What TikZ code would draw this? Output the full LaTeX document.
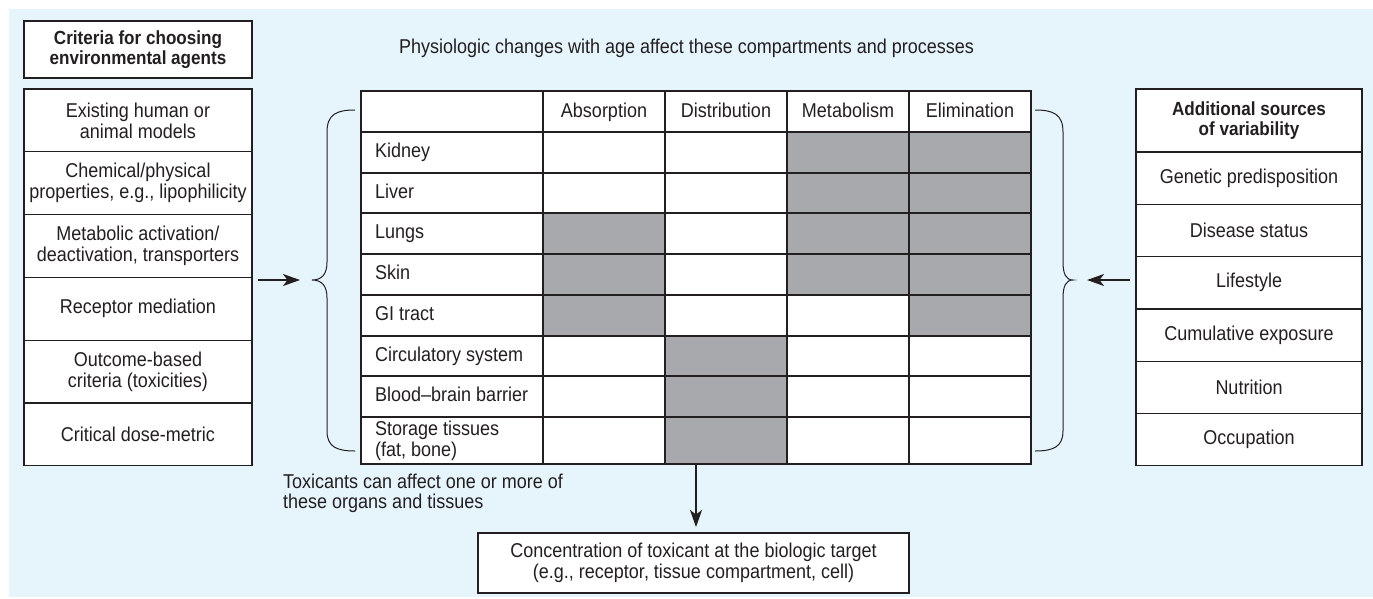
\documentclass[tikz,border=0pt]{standalone}
\usepackage{fontspec}
\setmainfont{Liberation Sans}[FakeStretch=0.9]
\usepackage{xcolor}
\usetikzlibrary{positioning,arrows.meta}
\definecolor{bgblue}{RGB}{230,244,252}
\definecolor{cellgray}{RGB}{167,169,172}
\definecolor{ink}{RGB}{35,31,32}
\tikzset{
  txt/.style={text=ink, font=\fontsize{20}{21}\selectfont},
  headtxt/.style={text=ink, font=\fontsize{19}{19.5}\selectfont\bfseries},
  box/.style={draw=ink, fill=white, line width=1.2pt, inner sep=0pt, outer sep=0pt, align=center, minimum width=228pt, txt},
  lbox/.style={box, minimum height=62.8pt},
  rbox/.style={box, minimum width=226pt, minimum height=52.3pt},
  rowlab/.style={txt, anchor=west, inner sep=0pt, text height=14pt, text depth=4pt},
  arr/.style={draw=ink, line width=2pt, -{Stealth[length=17pt,width=12pt,inset=4.5pt]}},
  brace/.style={draw=ink, line width=1pt},
}
\def\colx{{361,543,665,787,909,1031}}
\def\rowy{{91,132,173,213,254,295,336,376,417,464}}

\begin{document}
\begin{tikzpicture}[x=1pt,y=-1pt]
\useasboundingbox (0,0) rectangle (1373,598);
\fill[bgblue] (9,9) rectangle (1373,597);
%
\node[box, headtxt, minimum height=57pt] (crit) at (138,49.5) {Criteria for choosing\\environmental agents};
\node[lbox] (models) at (138,120.4) {Existing human or\\animal models};
\node[lbox, below=0pt of models] (props) {Chemical/physical\\properties, e.g., lipophilicity};
\node[lbox, below=0pt of props] (metab) {Metabolic activation/\\deactivation, transporters};
\node[lbox, below=0pt of metab] (recep) {Receptor mediation};
\node[lbox, below=0pt of recep] (outcome) {Outcome-based\\criteria (toxicities)};
\node[lbox, below=0pt of outcome] (dose) {Critical dose-metric};
%
\node[box, headtxt, minimum width=226pt, minimum height=63pt] (addl) at (1249,120.5) {Additional sources\\of variability};
\node[rbox, below=0pt of addl] (genetic) {Genetic predisposition};
\node[rbox, below=0pt of genetic] (disease) {Disease status};
\node[rbox, below=0pt of disease] (life) {Lifestyle};
\node[rbox, below=0pt of life] (cumul) {Cumulative exposure};
\node[rbox, below=0pt of cumul] (nutr) {Nutrition};
\node[rbox, below=0pt of nutr] (occup) {Occupation};
%
\node[txt, inner sep=0pt] (cap) at (686.5,48.5) {Physiologic changes with age affect these compartments and processes};
%
\fill[white] (361,91) rectangle (1031,464);
\foreach \c/\r in {3/1,4/1,3/2,4/2,1/3,3/3,4/3,1/4,3/4,4/4,1/5,4/5,2/6,2/7,2/8}{
  \pgfmathsetmacro\xa{\colx[\c]}
  \pgfmathsetmacro\xb{\colx[\c+1]}
  \pgfmathsetmacro\ya{\rowy[\r]}
  \pgfmathsetmacro\yb{\rowy[\r+1]}
  \fill[cellgray] (\xa,\ya) rectangle (\xb,\yb);
}
\foreach \y in {132,173,213,254,295,336,376,417}
  \draw[ink, line width=1.4pt] (361,\y) -- (1031,\y);
\foreach \x in {543,665,787,909}
  \draw[ink, line width=1.4pt] (\x,91) -- (\x,464);
\node[draw=ink, line width=2.4pt, inner sep=0pt, outer sep=0pt, minimum width=670pt, minimum height=373pt] (tab) at (696,277.5) {};
%
\foreach \t/\x [count=\i] in {Absorption/604,Distribution/726,Metabolism/848,Elimination/970}
  \node[txt, inner sep=0pt, text height=14pt, text depth=4pt] (hd\i) at (\x,112) {\t};
\foreach \t/\y [count=\i] in {Kidney/152.5,Liver/193,Lungs/233.5,Skin/274.5,GI tract/315.5,Circulatory system/356,Blood--brain barrier/396.5}
  \node[rowlab] (org\i) at (375,\y) {\t};
\node[txt, anchor=west, align=left, inner sep=0pt] (org8) at (375,440.5) {Storage tissues\\(fat, bone)};
%
\draw[brace] (355,110) .. controls (337,110) and (327,114) .. (327,132) -- (327,262) .. controls (327,274) and (322,280) .. (312,280) .. controls (322,280) and (327,286) .. (327,298) -- (327,431) .. controls (327,447) and (337,451) .. (355,451);
\draw[brace] (1035,110) .. controls (1053,110) and (1063,114) .. (1063,132) -- (1063,262) .. controls (1063,274) and (1066,280) .. (1073,280) .. controls (1066,280) and (1063,286) .. (1063,298) -- (1063,431) .. controls (1063,447) and (1053,451) .. (1035,451);
%
\coordinate (lfrom) at (258,280);
\coordinate (lto) at (300,280);
\draw[arr] (lfrom) -- (lto);
\coordinate (rfrom) at (1130,280);
\coordinate (rto) at (1087,280);
\draw[arr] (rfrom) -- (rto);
%
\node[txt, anchor=north west, align=left, inner sep=0pt, font=\fontsize{20}{20}\selectfont] (note) at (283,474) {Toxicants can affect one or more of\\these organs and tissues};
\node[box, minimum width=431pt, minimum height=60pt] (target) at (693.5,563) {Concentration of toxicant at the biologic target\\(e.g., receptor, tissue compartment, cell)};
\draw[arr, shorten >=6pt] (tab.south) -- (tab.south |- target.north);
\end{tikzpicture}
\end{document}
